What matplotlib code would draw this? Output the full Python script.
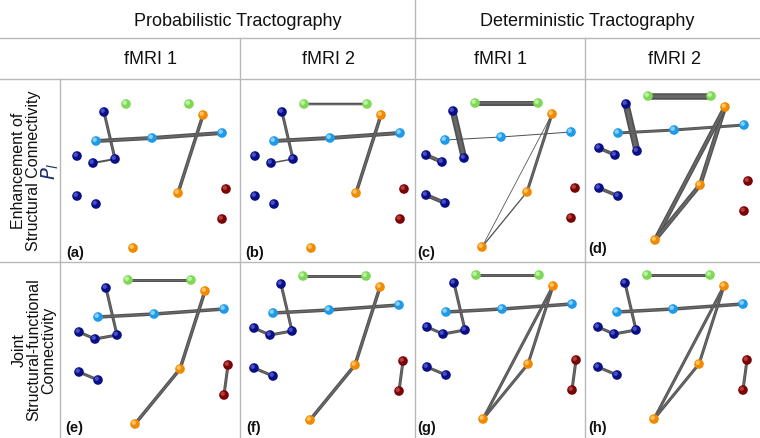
import matplotlib
matplotlib.use("Agg")
import matplotlib.pyplot as plt

plt.rcParams['font.family'] = ['Liberation Sans', 'DejaVu Sans']

# Node layout (shared by all panels, pixel units relative to each panel's image corner)
node_x = [66, 129, 44, 17, 33, 55, 17, 36, 36, 92, 162, 143, 118, 73, 166, 162]
node_y = [25, 25, 33, 77, 84, 80, 117, 125, 62, 59, 54, 36, 114, 169, 110, 140]
node_group = ['green', 'green',
              'navy', 'navy', 'navy', 'navy', 'navy', 'navy',
              'blue', 'blue', 'blue',
              'orange', 'orange', 'orange',
              'red', 'red']

group_colors = {'green': ('#7ed957', '#d2f7bd'),
                'navy': ('#0b0f86', '#5560d8'),
                'blue': ('#1e9be8', '#a5dcff'),
                'orange': ('#f08a00', '#ffd27a'),
                'red': ('#780404', '#c84a4a')}

# Edges per panel: (node i, node j, connection weight)
edges_a = [(2, 5, 3), (4, 5, 2), (8, 9, 4), (9, 10, 4), (11, 12, 3.5)]
edges_b = [(0, 1, 2.5), (2, 5, 3), (4, 5, 1.5), (8, 9, 4), (9, 10, 4), (11, 12, 3.5)]
edges_c = [(0, 1, 5), (2, 5, 6.5), (3, 4, 4), (6, 7, 4), (8, 9, 1), (9, 10, 1),
           (11, 12, 3), (11, 13, 0.8), (12, 13, 1.3)]
edges_d = [(0, 1, 6.5), (2, 5, 7), (3, 4, 3.5), (6, 7, 3.5), (8, 9, 3), (9, 10, 3),
           (11, 12, 4.5), (11, 13, 4.5), (12, 13, 4.5)]
edges_e = [(0, 1, 3), (2, 5, 3), (3, 4, 3), (4, 5, 3), (6, 7, 3), (8, 9, 3.5),
           (9, 10, 3.5), (11, 12, 3.5), (12, 13, 3.5), (14, 15, 3)]
edges_f = edges_e
edges_g = [(0, 1, 3), (2, 5, 3), (3, 4, 3), (4, 5, 3), (6, 7, 3), (8, 9, 3.5),
           (9, 10, 3.5), (11, 12, 3), (11, 13, 3), (12, 13, 3), (14, 15, 3)]
edges_h = edges_g

panel_names = ['(a)', '(b)', '(c)', '(d)', '(e)', '(f)', '(g)', '(h)']
panel_edges = [edges_a, edges_b, edges_c, edges_d, edges_e, edges_f, edges_g, edges_h]

col_titles = ['fMRI 1', 'fMRI 2', 'fMRI 1', 'fMRI 2']
group_titles = ['Probabilistic Tractography', 'Deterministic Tractography']

W, H = 760, 439
PX = 72 / 100  # points per pixel

fig = plt.figure(figsize=(W / 100, H / 100), dpi=100)
ax = fig.add_axes([0, 0, 1, 1])
ax.set_xlim(0, W)
ax.set_ylim(H, 0)
ax.axis('off')

# table grid
grid_kw = dict(color='#b8b8b8', lw=1.0, zorder=1)
ax.plot([0, W], [39, 39], **grid_kw)
ax.plot([0, W], [80, 80], **grid_kw)
ax.plot([0, W], [263, 263], **grid_kw)
ax.plot([60, 60], [80, H], **grid_kw)
ax.plot([240, 240], [39, H], **grid_kw)
ax.plot([415, 415], [0, H], **grid_kw)
ax.plot([585, 585], [39, H], **grid_kw)

# headers
ax.text(238, 22, group_titles[0], ha='center', va='center', fontsize=13, color='#111111')
ax.text(587.5, 22, group_titles[1], ha='center', va='center', fontsize=13, color='#111111')
for cx, t in zip([150, 328, 500, 674], col_titles):
    ax.text(cx, 60, t, ha='center', va='center', fontsize=13, color='#111111')

# row labels
ax.text(26, 171, 'Enhancement of\nStructural Connectivity', rotation=90, ha='center',
        va='center', fontsize=11.5, linespacing=1.0, color='#111111')
ax.text(50, 171, r'$P_l$', rotation=90, ha='center', va='center', fontsize=14,
        color='#1c2f66')
ax.text(34, 350, 'Joint\nStructural-functional\nConnectivity', rotation=90, ha='center',
        va='center', fontsize=11.5, linespacing=1.0, color='#111111')

# panel image corners and label positions
origins = [(60, 80), (238, 80), (409, 79), (582, 72),
           (62, 256), (237, 252), (410, 251), (581, 251)]
label_pos = [(66, 253), (245, 253), (417, 253), (588, 249),
             (65, 428), (246, 428), (417, 428), (588, 428)]

for name, edges, (ox, oy), (lx, ly) in zip(panel_names, panel_edges, origins, label_pos):
    xs = [ox + x for x in node_x]
    ys = [oy + y for y in node_y]
    for i, j, w in edges:
        ax.plot([xs[i], xs[j]], [ys[i], ys[j]], color='#525252', lw=w * PX,
                solid_capstyle='butt', zorder=3)
        if w >= 2.5:
            ax.plot([xs[i], xs[j]], [ys[i], ys[j]], color='#686868', lw=w * PX * 0.45,
                    solid_capstyle='butt', zorder=3)
    for g, (base, hi) in group_colors.items():
        gx = [x for x, gg in zip(xs, node_group) if gg == g]
        gy = [y for y, gg in zip(ys, node_group) if gg == g]
        ax.scatter(gx, gy, s=48, color=base, edgecolors='none', zorder=4)
        ax.scatter([x - 1.3 for x in gx], [y - 1.3 for y in gy], s=10, color=hi,
                   edgecolors='none', alpha=0.8, zorder=5)
    ax.text(lx, ly, name, ha='left', va='center', fontsize=10.5, fontweight='bold',
            color='#111111')

fig.savefig('out.png', dpi=100)
